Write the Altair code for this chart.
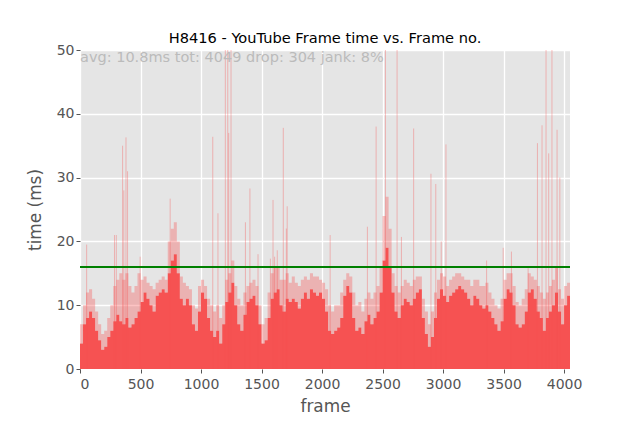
import pandas as pd
import altair as alt

# frame bins of 25 frames: start frame, dense level (ms), fuzzy top (ms)
bin_start = list(range(0, 4049, 25))
solid_ms = [
    4, 7, 8, 9, 8, 6, 4.5, 3, 3.5, 5,
    6, 7.5, 8.5, 7.5, 7, 8, 6.5, 7, 8, 9,
    10.5, 12, 11, 10, 9, 11.5, 12, 12.5, 12, 15,
    17, 18, 15, 11, 10, 11, 10, 7, 6, 9,
    12, 11, 8, 6, 5, 6, 4, 7, 10.5, 12,
    13.5, 10, 7, 6, 8.5, 10.5, 11, 11.5, 10, 7,
    4, 4.5, 8, 11, 12, 12.5, 10, 9, 11, 10.5,
    11, 10.5, 9.5, 11, 12, 11, 12.5, 12, 11.5, 12,
    11, 9, 6, 5.5, 6, 6.5, 8, 11.5, 13, 12,
    8, 6, 6.5, 5.5, 7.5, 8.5, 7, 8, 9, 12,
    17, 19, 16, 12, 9, 8, 10, 11, 10.5, 10,
    11, 12, 12.5, 8, 5.5, 3.5, 5, 8, 11, 12.5,
    11.5, 10.5, 11.5, 12, 12.5, 13, 12.5, 12, 11, 10,
    11.5, 11, 10, 9.5, 10, 9, 8, 7, 6, 7.5,
    11, 12.5, 12, 10, 7, 6.5, 7, 9, 12, 12.5,
    11, 9, 8, 6, 8, 9, 10, 12, 9, 7,
    10, 11.5,
]
fuzz_ms = [
    7, 10, 12, 12.5, 11, 9, 7, 5.5, 6, 8,
    10, 13, 14, 15, 14, 15, 13, 12, 13, 15,
    14, 14.5, 13.5, 13, 12.5, 13.5, 14, 14.5, 14, 20,
    22, 23, 20, 14.5, 13.5, 13, 12.5, 10, 9.5, 13,
    14, 13, 11, 10, 9, 10, 8, 10, 14, 15,
    17, 13, 11, 10, 12, 13, 13.5, 14, 13, 10,
    7, 8, 12, 15, 16, 16, 14, 14, 15, 13.5,
    14.5, 13.5, 13, 14, 14.5, 14, 15, 14.5, 14.5, 14,
    13.5, 12.5, 10, 9, 10, 10, 12, 14, 15, 14.5,
    12, 10, 10.5, 9, 11, 12, 11, 12, 13, 16,
    24, 27, 22, 15, 13, 12, 13, 14, 13.5, 13,
    14, 14.5, 14.5, 11, 9, 7, 9, 12, 14, 15,
    14.5, 13, 14, 14.5, 15, 15, 14.5, 14, 14, 13,
    14, 14, 13, 13, 13.5, 12, 11, 10, 9.5, 11,
    14, 15, 15, 13, 10.5, 10, 11, 12.5, 15, 14.5,
    14, 13, 12, 11, 12, 13, 14, 16, 12.5, 11,
    13, 13.5,
]

# isolated long frames
spike_frame = [55, 285, 300, 352, 362, 380, 393, 497, 745, 1097,
               1140, 1201, 1221, 1229, 1248, 1367, 1404, 1471, 1573, 1595,
               1608, 1630, 1680, 1705, 1712, 2067, 2375, 2447, 2524, 2620,
               2656, 2757, 2900, 2940, 2985, 3024, 3360, 3497, 3565, 3703,
               3780, 3818, 3851, 3873, 3900, 3942, 3965]
spike_ms = [19.5, 21, 21, 35, 28, 36.3, 31, 17.6, 26.7, 36.4,
            24.4, 50, 50, 37, 50, 23, 28.3, 18, 17.3, 26.5,
            17.6, 18.6, 37.8, 22, 25.5, 21, 22.3, 38, 50, 50,
            20.7, 37.7, 30.6, 29, 20, 35.2, 17, 19, 18.4, 15.8,
            35.4, 38.2, 50, 33.8, 50, 37.5, 30]

total_frames = 4049
jank_ms = 16
note = "avg: 10.8ms tot: 4049 drop: 304 jank: 8%"

bins = pd.DataFrame({"start": bin_start, "solid": solid_ms, "fuzz": fuzz_ms})
# close the last step at the final frame
last = bins.iloc[[-1]].copy()
last["start"] = total_frames
steps = pd.concat([bins, last], ignore_index=True)
spikes = pd.DataFrame({"frame": spike_frame, "ms": spike_ms})

red = "#F65252"
xscale = alt.Scale(domain=[0, total_frames], nice=False)
yscale = alt.Scale(domain=[0, 50], nice=False)

xaxis = alt.Axis(title="frame", values=list(range(0, 4001, 500)), format="d",
                 labelPadding=4, titlePadding=7)
yaxis = alt.Axis(title="time (ms)", values=list(range(0, 51, 10)), format="d",
                 titlePadding=12)

base = alt.Chart(steps).mark_area(color=red, opacity=1, interpolate="step-after").encode(
    x=alt.X("start:Q", scale=xscale, axis=xaxis),
    y=alt.Y("solid:Q", scale=yscale, axis=yaxis),
    y2=alt.datum(0),
)

fuzz = alt.Chart(steps).mark_area(color=red, opacity=0.35, interpolate="step-after").encode(
    x=alt.X("start:Q", scale=xscale),
    y=alt.Y("fuzz:Q", scale=yscale),
    y2="solid:Q",
)

spike = alt.Chart(spikes).mark_rule(color=red, opacity=0.4, strokeWidth=0.9).encode(
    x=alt.X("frame:Q", scale=xscale),
    y=alt.Y("ms:Q", scale=yscale),
    y2=alt.datum(0),
)

jank = alt.Chart(pd.DataFrame({"ms": [jank_ms]})).mark_rule(
    color="green", strokeWidth=2
).encode(y=alt.Y("ms:Q", scale=yscale))

label = alt.Chart(pd.DataFrame({"t": [note]})).mark_text(
    align="left", baseline="top", color="#BBBBBB", fontSize=14.5, dy=1,
    font="DejaVu Sans",
).encode(x=alt.datum(0), y=alt.datum(50), text="t:N")

chart = (
    alt.layer(fuzz, base, spike, jank, label)
    .properties(
        width=490,
        height=319,
        title=alt.TitleParams(
            "H8416 - YouTube Frame time vs. Frame no.",
            fontSize=14.6, fontWeight="normal", font="DejaVu Sans",
            color="black", offset=-3,
        ),
        autosize=alt.AutoSizeParams(type="none"),
        padding={"left": 72, "top": 42, "right": 50, "bottom": 45},
    )
    .configure_view(fill="#E5E5E5", strokeWidth=0)
    .configure_axis(
        domain=False,
        grid=True,
        gridColor="white",
        gridWidth=1.3,
        tickColor="#555555",
        tickSize=4,
        labelColor="#555555",
        labelFontSize=14,
        labelFont="DejaVu Sans",
        labelPadding=2,
        titleColor="#555555",
        titleFontSize=16.9,
        titleFontWeight="normal",
        titleFont="DejaVu Sans",
    )
)

chart.save("out.html", embed_options={"renderer": "svg", "actions": False})
